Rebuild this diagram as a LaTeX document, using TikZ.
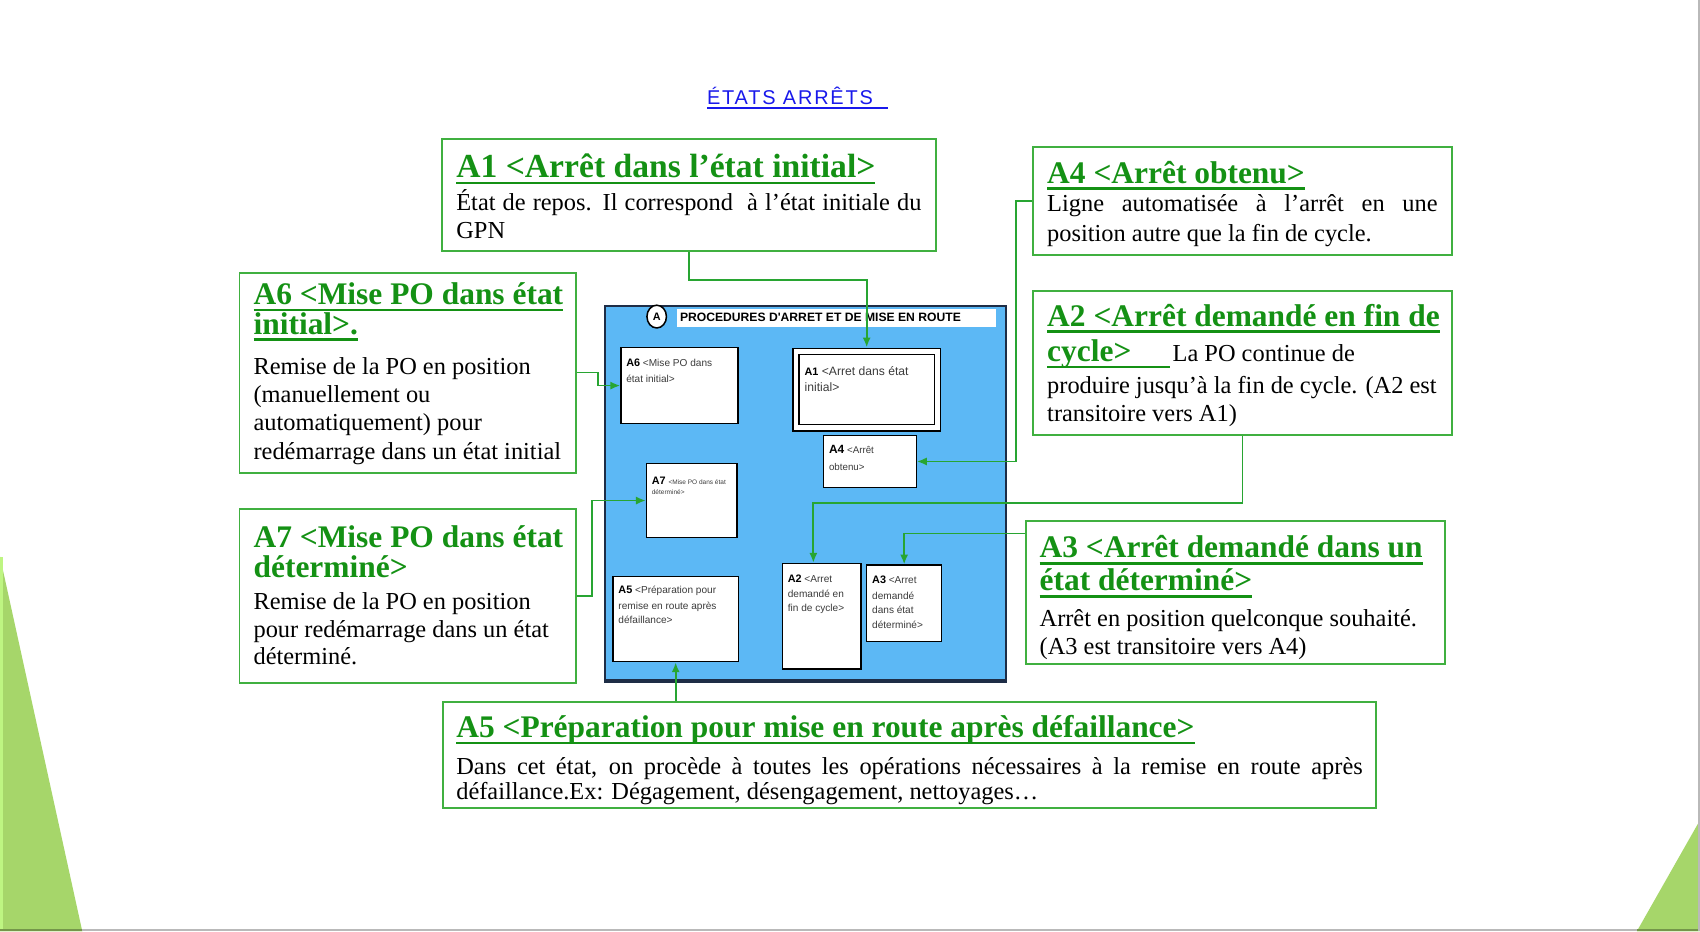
\documentclass[tikz,border=0pt]{standalone}
\usepackage{fontspec}
\setmainfont{Liberation Serif}
\newfontfamily\arialfont{Liberation Sans}
\newfontfamily\headfont[LetterSpace=9]{Liberation Sans}
\usetikzlibrary{arrows.meta,shapes.geometric}

\definecolor{boxgreen}{RGB}{64,176,64}
\definecolor{titlegreen}{RGB}{20,145,20}
\definecolor{linkgreen}{RGB}{40,165,50}
\definecolor{procblue}{RGB}{92,184,245}
\definecolor{procborder}{RGB}{30,45,70}
\definecolor{headblue}{RGB}{25,25,235}
\definecolor{minigrey}{RGB}{60,60,60}
\definecolor{trigreen}{RGB}{166,214,106}
\definecolor{trilight}{RGB}{190,245,130}

\newsavebox{\soulbox}
\newcommand{\souligne}[1]{\leavevmode\sbox\soulbox{#1}\rlap{\rule[-6.2pt]{\wd\soulbox}{2.4pt}}\usebox\soulbox}
\newcommand{\titre}{\fontsize{29}{26}\selectfont\bfseries\color{titlegreen}}
\newcommand{\corps}{\fontsize{22.5}{26}\selectfont\lineskiplimit=-50pt\relax}
\newcommand{\petit}{\arialfont\fontsize{9.3}{14}\selectfont\lineskiplimit=-50pt\relax}
\newcommand{\moyen}{\arialfont\fontsize{11.2}{14}\selectfont\lineskiplimit=-50pt\relax}
\newcommand{\bandeaufont}{\arialfont\bfseries\fontsize{11.2}{13}\selectfont}
\newcommand{\etiq}[1]{{\fontsize{10}{14}\selectfont\bfseries\color{black}#1}}
\newcommand{\justif}[1]{\leavevmode\hbox to \linewidth{\spaceskip=\fontdimen2\font plus 1fil\relax#1}}

\begin{document}
\begin{tikzpicture}
[every node/.style={inner sep=0pt},
 etat/.style={draw=boxgreen, line width=1.8pt, anchor=north west, inner xsep=13pt, inner ysep=0pt, align=flush left, font=\corps, text=black},
 mini/.style={draw=black, line width=1.3pt, fill=white, anchor=north west, inner xsep=5pt, inner ysep=0pt, align=flush left, font=\petit, text=minigrey},
 link/.style={draw=linkgreen, line width=1.6pt, -{Latex[length=9pt, width=7.5pt]}}]
\useasboundingbox (0pt, 0pt) rectangle (1568pt, -859pt);
\fill [white] (0pt, 0pt) rectangle (1568pt, -859pt);
% slide background
\fill [trigreen] (0pt, -513.5pt) -- (75.9pt, -859pt) -- (0pt, -859pt) -- cycle;
\fill [trilight] (0pt, -513.5pt) rectangle (2.5pt, -859pt);
\fill [trigreen] (1568pt, -756.4pt) -- (1568pt, -859pt) -- (1509.7pt, -859pt) -- cycle;
\fill [gray!55] (0pt, -856.5pt) rectangle (1568pt, -859pt);
\fill [gray!55] (1566.5pt, 0pt) rectangle (1568pt, -859pt);
\fill [trigreen!70!black] (0pt, -856.5pt) rectangle (75.9pt, -859pt);
\fill [trigreen!70!black] (1509.7pt, -856.5pt) rectangle (1566.5pt, -859pt);

\node (entete) [anchor=base west, text=headblue, font=\headfont\fontsize{18.4}{20}\selectfont] at (652pt, -96.2pt) {\rlap{\rule[-4.5pt]{167pt}{1.6pt}}ÉTATS ARRÊTS};

% procedure sheet
\node (proc) [fill=procblue, draw=procborder, line width=2pt, anchor=north west, minimum width=370pt, minimum height=345pt] at (557pt, -281pt) {};
\draw [procborder, line width=3.5pt] (proc.south west) -- (proc.south east);
\node (bandeau) [fill=white, anchor=north west, inner xsep=3pt, text width=288pt, text height=11.6pt, text depth=5.3pt, align=flush left, font=\bandeaufont] at (624pt, -284.4pt) {PROCEDURES D'ARRET ET DE MISE EN ROUTE};
\node (cercle) [ellipse, draw=black, line width=1.4pt, fill=white, minimum width=18pt, minimum height=21pt, font=\arialfont\bfseries\fontsize{10}{12}\selectfont] at (605.7pt, -292pt) {A};
\node (a6i) [mini, text width=98pt, text height=17.6pt, text depth=52.4pt] at (572pt, -320pt) {\etiq{A6} <Mise PO dans\\[0.4pt] état initial>};
\node (a1i) [mini, double, double distance=4.5pt, inner xsep=8pt, text width=114.5pt, text height=22.5pt, text depth=48pt, font=\moyen] at (733.5pt, -323.5pt) {\etiq{A1} <Arret dans état\\[0.4pt] initial>};
\node (a4i) [mini, text width=75.5pt, text height=17pt, text depth=31pt] at (759pt, -401pt) {{\fontsize{11}{14}\selectfont\bfseries\color{black}A4} {\fontsize{9}{14}\selectfont<Arrêt}\\[1.5pt] {\fontsize{9}{14}\selectfont obtenu>}};
\node (a7i) [mini, text width=73.5pt, text height=18.8pt, text depth=49.2pt] at (595.6pt, -427pt) {\mbox{\etiq{A7} {\fontsize{6}{14}\selectfont<Mise PO dans état}}\\[-4.5pt] {\fontsize{6}{14}\selectfont déterminé>}};
\node (a5i) [mini, text width=105.5pt, text height=15.7pt, text depth=63pt] at (564.8pt, -531pt) {\etiq{A5} <Préparation pour\\[0.4pt] remise en route après\\[-0.7pt] défaillance>};
\node (a2i) [mini, text width=62.5pt, text height=17.5pt, text depth=79.9pt] at (721pt, -519pt) {\etiq{A2} <Arret\\ demandé en\\[-0.8pt] fin de cycle>};
\node (a3i) [mini, text width=59pt, text height=16.9pt, text depth=53.6pt] at (798.8pt, -520.5pt) {\etiq{A3} <Arret\\[0.5pt] demandé\\[-0.8pt] dans état\\[-0.4pt] déterminé>};

% state descriptions
\node (a1) [etat, text width=429pt, text height=36pt, text depth=68pt] at (407pt, -127pt) {{\fontsize{31}{26}\selectfont\bfseries\color{titlegreen}\souligne{A1 <Arrêt dans l'état initial>}}\\[4pt] \justif{État de repos. Il correspond\ \ à l'état initiale du}\\ GPN};
\node (a4) [etat, text width=360pt, text height=33pt, text depth=66pt] at (952pt, -135pt) {{\titre\souligne{A4 <Arrêt obtenu>}}\\[0.5pt] \justif{Ligne automatisée à l'arrêt en une}\\[1.5pt] position autre que la fin de cycle.};
\node (a6) [etat, text width=284pt, text height=29.5pt, text depth=155pt] at (220pt, -250.5pt) {{\titre\souligne{A6 <Mise PO dans état}}\\[1.5pt] {\titre\souligne{initial>.}}\\[11pt] Remise de la PO en position\\ (manuellement ou\\ automatiquement) pour\\ \mbox{redémarrage dans un état initial}};
\node (a2) [etat, text width=360pt, text height=32.5pt, text depth=100pt] at (952pt, -267.5pt) {{\titre\souligne{A2 <Arrêt demandé en fin de}}\\[6.7pt] {\titre\souligne{cycle>\hspace{36pt}}}\hspace{2pt}La PO continue de\\[3.3pt] \mbox{produire jusqu'à la fin de cycle. (A2 est}\\[-0.5pt] transitoire vers A1)};
\node (a7) [etat, text width=284pt, text height=35pt, text depth=124.8pt] at (220pt, -469pt) {{\titre\mbox{A7 <Mise PO dans état}}\\[2pt] {\titre déterminé>}\\[3pt] Remise de la PO en position\\[0.3pt] \mbox{pour redémarrage dans un état}\\[-1.3pt] déterminé.};
\node (a3) [etat, text width=361pt, text height=34pt, text depth=98.3pt] at (945pt, -479.6pt) {{\titre\souligne{A3 <Arrêt demandé dans un}}\\[4.5pt] {\titre\souligne{état déterminé>}}\\[6.5pt] \mbox{Arrêt en position quelconque souhaité.}\\ (A3 est transitoire vers A4)};
\node (a5) [etat, inner xsep=12pt, text width=836pt, text height=32.5pt, text depth=65pt] at (408pt, -647pt) {{\titre\souligne{A5 <Préparation pour mise en route après défaillance>}}\\[7.5pt] \justif{Dans cet état, on procède à toutes les opérations nécessaires à la remise en route après}\\[-2.5pt] défaillance.Ex: Dégagement, désengagement, nettoyages…};

\draw [link] (a1.south) -- ++(0pt, -25.7pt) -| ([yshift=3.2pt]a1i.north);
\draw [link] (a4.west) -- ++(-15pt, 0pt) |- (a4i.east);
\draw [link] (a6.east) -- ++(20pt, 0pt) |- (a6i.west);
\draw [link] (a7.east) -- ++(14pt, 0pt) |- (a7i.west);
\draw [link] (a2.south) -- ++(0pt, -62.3pt) -| ([xshift=-7.7pt]a2i.north);
\draw [link] ([yshift=-12.4pt]a3.north west) -| (a3i.north);
\draw [link] (a5i.south |- a5.north) -- (a5i.south);
\end{tikzpicture}
\end{document}
